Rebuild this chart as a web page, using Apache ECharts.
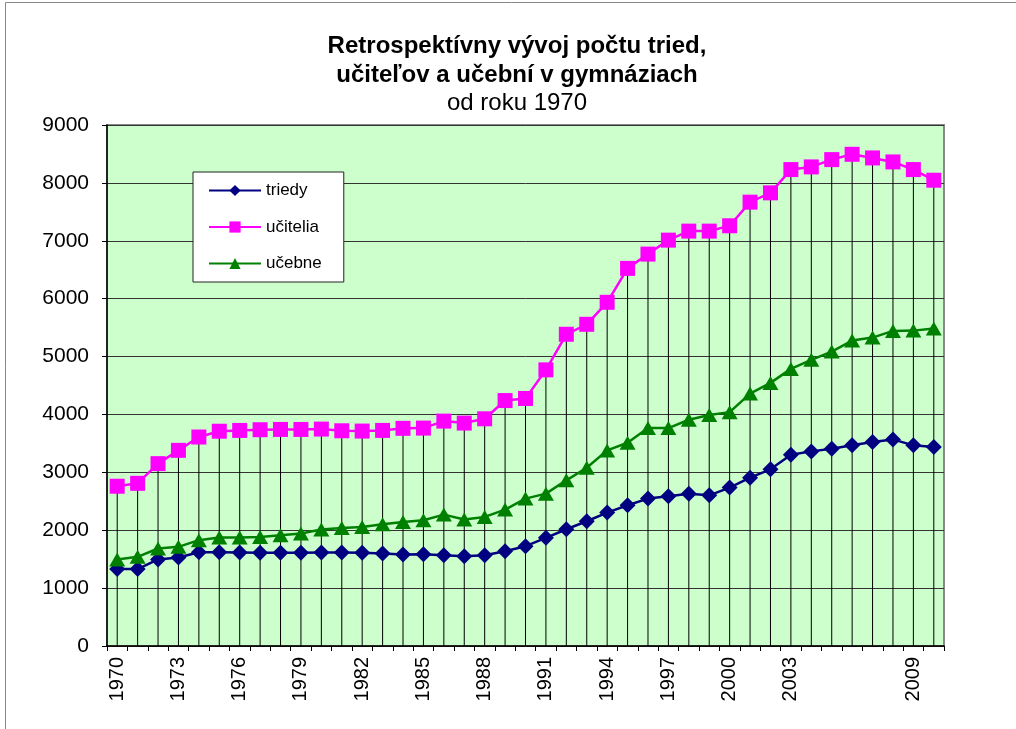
<!DOCTYPE html>
<html>
<head>
<meta charset="utf-8">
<script src="https://cdn.jsdelivr.net/npm/echarts@6/dist/echarts.min.js"></script>
<style>
  html, body { margin: 0; padding: 0; background: #fff; }
  #chart { width: 1016px; height: 729px; }
</style>
</head>
<body>
<div id="chart"></div>
<script>
// roky 1970 - 2010
const years = [
  '1970','1971','1972','1973','1974','1975','1976','1977','1978','1979',
  '1980','1981','1982','1983','1984','1985','1986','1987','1988','1989',
  '1990','1991','1992','1993','1994','1995','1996','1997','1998','1999',
  '2000','2001','2002','2003','2004','2005','2006','2007','2008','2009','2010'
]

const triedy = [
  1330, 1330, 1495, 1530, 1620, 1620, 1615, 1610, 1610, 1610,
  1615, 1615, 1610, 1598, 1580, 1586, 1569, 1552, 1569, 1638,
  1724, 1868, 2017, 2155, 2305, 2431, 2546, 2586, 2632, 2603,
  2736, 2908, 3052, 3305, 3362, 3408, 3466, 3523, 3569, 3466, 3437
]

const ucitelia = [
  2760, 2810, 3150, 3380, 3610, 3710, 3724, 3736, 3741, 3741,
  3747, 3718, 3713, 3724, 3760, 3764, 3885, 3851, 3925, 4240,
  4276, 4770, 5385, 5557, 5937, 6523, 6770, 7011, 7167, 7167,
  7259, 7667, 7828, 8230, 8276, 8402, 8494, 8431, 8362, 8230, 8046
]

const ucebne = [
  1495, 1540, 1684, 1713, 1828, 1874, 1874, 1885, 1914, 1943,
  2011, 2040, 2057, 2103, 2144, 2172, 2270, 2184, 2230, 2356,
  2546, 2632, 2862, 3080, 3379, 3511, 3764, 3764, 3908, 3990,
  4040, 4360, 4545, 4787, 4943, 5086, 5276, 5328, 5443, 5448, 5483
]

// popisky osi x, ktore su v grafe viditelne
const shownYears = ['1970','1973','1976','1979','1982','1985','1988','1991','1994','1997','2000','2003','2009']

const font = "'Liberation Sans', Arial, sans-serif"

const myChart = echarts.init(document.getElementById('chart'))

const option = {
  animation: false,
  backgroundColor: '#fff',
  textStyle: { fontFamily: font, color: '#000' },
  graphic: [
    {
      type: 'rect',
      shape: { x: 5.5, y: 2.5, width: 1020, height: 740 },
      style: { fill: 'none', stroke: '#888', lineWidth: 1 },
      silent: true
    }
  ],
  title: {
    text: 'Retrospektívny vývoj počtu tried,\nučiteľov a učební v gymnáziach',
    subtext: 'od roku 1970',
    left: 512,
    textAlign: 'center',
    top: 27,
    itemGap: 0,
    textStyle: {
      fontFamily: font,
      fontSize: 24,
      fontWeight: 'bold',
      lineHeight: 29,
      color: '#000'
    },
    subtextStyle: {
      fontFamily: font,
      fontSize: 24,
      lineHeight: 27,
      color: '#000'
    }
  },
  legend: {
    data: ['triedy', 'učitelia', 'učebne'],
    orient: 'vertical',
    left: 193,
    top: 172,
    padding: [10, 22, 10, 15],
    itemGap: 19.5,
    itemWidth: 52,
    itemHeight: 14,
    backgroundColor: '#fff',
    borderColor: '#222',
    borderWidth: 1,
    textStyle: { fontFamily: font, fontSize: 17, color: '#000', padding: [0, 0, 0, 0] }
  },
  grid: {
    left: 107,
    right: 72,
    top: 125,
    bottom: 83,
    show: true,
    backgroundColor: '#CCFFCC',
    borderColor: '#888',
    borderWidth: 2
  },
  xAxis: {
    type: 'category',
    data: years,
    boundaryGap: true,
    axisLine: { lineStyle: { color: '#000', width: 1.5 } },
    axisTick: { show: true, interval: 0, length: 5, lineStyle: { color: '#000' } },
    axisLabel: {
      interval: 0,
      rotate: 90,
      fontSize: 20,
      fontFamily: font,
      color: '#000',
      margin: 11,
      formatter: function (v) {
        return shownYears.indexOf(v) >= 0 ? v : ''
      }
    },
    splitLine: { show: false }
  },
  yAxis: {
    type: 'value',
    min: 0,
    max: 9000,
    interval: 1000,
    axisLine: { show: true, lineStyle: { color: '#000', width: 1.5 } },
    axisTick: { show: true, length: 5, lineStyle: { color: '#000' } },
    axisLabel: {
      fontSize: 21,
      fontFamily: font,
      color: '#000',
      margin: 18,
      formatter: function (v) { return String(v) }
    },
    splitLine: { show: true, lineStyle: { color: '#333', width: 1 } }
  },
  series: [
    {
      // zvisle spojnice od najvyssieho bodu k osi
      name: 'spojnice',
      type: 'bar',
      data: ucitelia,
      barWidth: 1,
      itemStyle: { color: '#000' },
      silent: true,
      z: 1
    },
    {
      name: 'triedy',
      type: 'line',
      data: triedy,
      symbol: 'diamond',
      symbolSize: [16, 16],
      lineStyle: { color: '#000080', width: 2.5 },
      itemStyle: { color: '#000080' },
      z: 3
    },
    {
      name: 'učitelia',
      type: 'line',
      data: ucitelia,
      symbol: 'rect',
      symbolSize: 15,
      lineStyle: { color: '#FF00FF', width: 2.5 },
      itemStyle: { color: '#FF00FF' },
      z: 3
    },
    {
      name: 'učebne',
      type: 'line',
      data: ucebne,
      symbol: 'triangle',
      symbolSize: [16, 14],
      lineStyle: { color: '#008000', width: 2.5 },
      itemStyle: { color: '#008000' },
      z: 3
    }
  ]
}

myChart.setOption(option)
window.onresize = myChart.resize
</script>
</body>
</html>
